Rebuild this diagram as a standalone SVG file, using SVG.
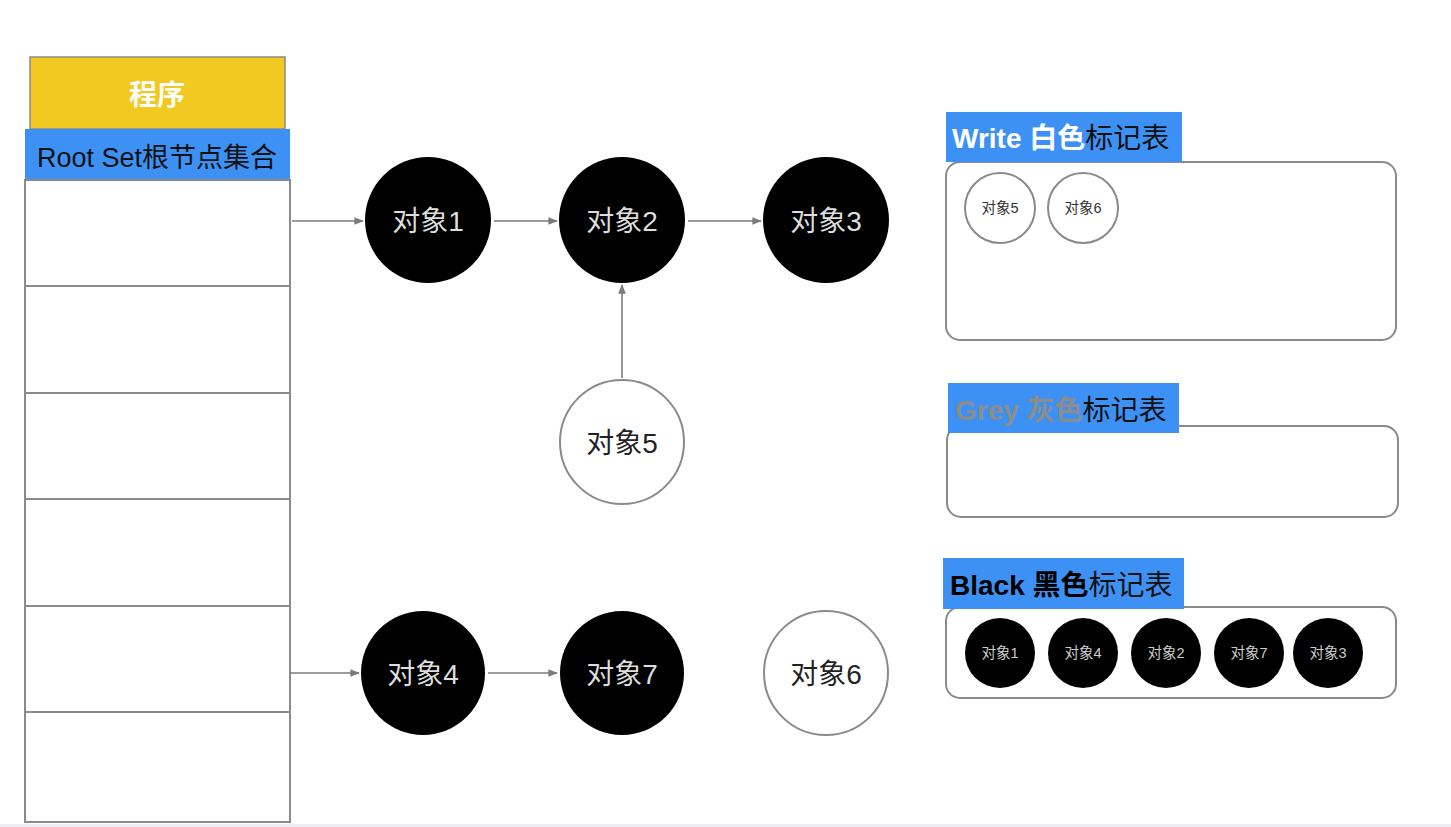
<svg xmlns="http://www.w3.org/2000/svg" width="1451" height="827" viewBox="0 0 1451 827">
<defs>
<style>
.t{font-family:"Liberation Sans","Noto Sans CJK SC",sans-serif;}
.big{font-size:28px;}
.sm{font-size:14.5px;}
.blk{fill:#000;}
.wht{fill:#fff;stroke:#8a8a8a;stroke-width:2;}
.panel{fill:#fff;stroke:#8a8a8a;stroke-width:2;}
.lbl{fill:#3d91f4;}
.edge{stroke:#7a7a7a;stroke-width:1.6;fill:none;marker-end:url(#arr);}
.row{stroke:#8a8a8a;stroke-width:2;}
</style>
<marker id="arr" viewBox="0 0 10 10" refX="9" refY="5" markerWidth="6" markerHeight="6" orient="auto" markerUnits="strokeWidth">
<path d="M0,1 L10,5 L0,9 z" fill="#7a7a7a"/>
</marker>
</defs>
<rect x="0" y="0" width="1451" height="827" fill="#fff"/>
<rect x="0" y="824" width="1451" height="3" fill="#ededf0"/>

<g id="program">
<rect x="30" y="57" width="255" height="72" fill="#f1c921" stroke="#8a8a8a" stroke-width="1.5"/>
<text class="t" x="157" y="105" font-size="28" font-weight="bold" fill="#fff" text-anchor="middle">程序</text>
</g>

<g id="rootset">
<rect x="25" y="129" width="265" height="51" class="lbl"/>
<text class="t" x="157" y="167" font-size="27" fill="#111" text-anchor="middle">Root Set根节点集合</text>
<rect x="25" y="180" width="265" height="642" fill="#fff" stroke="#8a8a8a" stroke-width="2"/>
<line class="row" x1="25" y1="286" x2="290" y2="286"/>
<line class="row" x1="25" y1="393" x2="290" y2="393"/>
<line class="row" x1="25" y1="499" x2="290" y2="499"/>
<line class="row" x1="25" y1="606" x2="290" y2="606"/>
<line class="row" x1="25" y1="712" x2="290" y2="712"/>
</g>

<g id="connectors">
<line class="edge" x1="292" y1="221" x2="363" y2="221"/>
<line class="edge" x1="494" y1="221" x2="557" y2="221"/>
<line class="edge" x1="688" y1="221" x2="761" y2="221"/>
<line class="edge" x1="622" y1="378" x2="622" y2="285"/>
<line class="edge" x1="290" y1="673" x2="359" y2="673"/>
<line class="edge" x1="488" y1="673" x2="557" y2="673"/>
</g>

<g id="obj1"><circle cx="428" cy="220" r="63" class="blk"/><text class="t big" x="428" y="231" fill="#ddd" text-anchor="middle">对象1</text></g>
<g id="obj2"><circle cx="622" cy="220" r="63" class="blk"/><text class="t big" x="622" y="231" fill="#ddd" text-anchor="middle">对象2</text></g>
<g id="obj3"><circle cx="826" cy="220" r="63" class="blk"/><text class="t big" x="826" y="231" fill="#ddd" text-anchor="middle">对象3</text></g>
<g id="obj5"><circle cx="622" cy="442" r="62" class="wht"/><text class="t big" x="622" y="453" fill="#222" text-anchor="middle">对象5</text></g>
<g id="obj4"><circle cx="423" cy="673" r="62" class="blk"/><text class="t big" x="423" y="684" fill="#ddd" text-anchor="middle">对象4</text></g>
<g id="obj7"><circle cx="622" cy="673" r="62" class="blk"/><text class="t big" x="622" y="684" fill="#ddd" text-anchor="middle">对象7</text></g>
<g id="obj6"><circle cx="826" cy="673" r="62" class="wht"/><text class="t big" x="826" y="684" fill="#222" text-anchor="middle">对象6</text></g>

<g id="white-table">
<rect x="946" y="162" width="450" height="178" rx="14" class="panel"/>
<rect x="946" y="112" width="236" height="50" class="lbl"/>
<text class="t big" x="952" y="148"><tspan fill="#fff" font-weight="bold">Write 白色</tspan><tspan fill="#111">标记表</tspan></text>
<circle cx="1000" cy="208" r="35" class="wht"/>
<text class="t sm" x="1000" y="213" fill="#333" text-anchor="middle">对象5</text>
<circle cx="1083" cy="208" r="35" class="wht"/>
<text class="t sm" x="1083" y="213" fill="#333" text-anchor="middle">对象6</text>
</g>

<g id="grey-table">
<rect x="947" y="426" width="451" height="91" rx="14" class="panel"/>
<rect x="948" y="383" width="231" height="50" class="lbl"/>
<text class="t big" x="955" y="420"><tspan fill="#8c8c8c" font-weight="bold">Grey 灰色</tspan><tspan fill="#111">标记表</tspan></text>
</g>

<g id="black-table">
<rect x="946" y="607" width="450" height="91" rx="14" class="panel"/>
<rect x="943" y="558" width="241" height="51" class="lbl"/>
<text class="t big" x="950" y="595"><tspan fill="#000" font-weight="bold">Black 黑色</tspan><tspan fill="#111">标记表</tspan></text>
<circle cx="1000" cy="653" r="35" class="blk"/><text class="t sm" x="1000" y="658" fill="#ccc" text-anchor="middle">对象1</text>
<circle cx="1083" cy="653" r="35" class="blk"/><text class="t sm" x="1083" y="658" fill="#ccc" text-anchor="middle">对象4</text>
<circle cx="1166" cy="653" r="35" class="blk"/><text class="t sm" x="1166" y="658" fill="#ccc" text-anchor="middle">对象2</text>
<circle cx="1249" cy="653" r="35" class="blk"/><text class="t sm" x="1249" y="658" fill="#ccc" text-anchor="middle">对象7</text>
<circle cx="1328" cy="653" r="35" class="blk"/><text class="t sm" x="1328" y="658" fill="#ccc" text-anchor="middle">对象3</text>
</g>
</svg>
